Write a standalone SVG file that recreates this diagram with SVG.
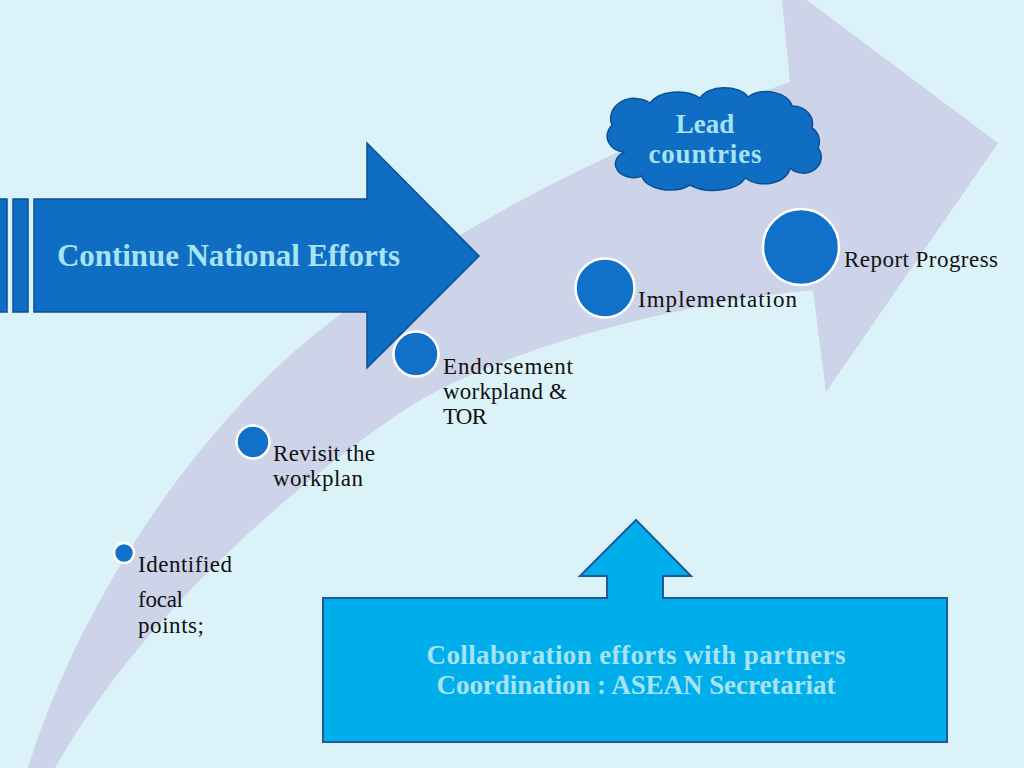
<svg xmlns="http://www.w3.org/2000/svg" width="1024" height="768" viewBox="0 0 1024 768">
  <style>
    .blue { fill: #0f6dc4; stroke: #0b4f94; stroke-width: 1.5; }
    .dot { fill: #1170c8; stroke: #ffffff; stroke-width: 2.5; }
    .lbl { font-family: "Liberation Serif", "Times New Roman", serif; font-size: 23px; fill: #111111; }
    .hdr { font-family: "Liberation Serif", "Times New Roman", serif; font-weight: bold; fill: #a6e3f5; }
  </style>
  <rect x="0" y="0" width="1024" height="768" fill="#dbf3f8"/>

  <g id="curved-arrow">
    <path d="M 28,768 C 80,600 200,420 333,320 C 450,232 600,150 790,82 L 780,-20 L 998,143 L 826,392 L 813,290 C 700,300 500,345 400,413 C 320,467 150,600 55,768 Z" fill="#cdd3e8"/>
  </g>

  <g id="national-efforts">
    <rect class="blue" x="-4" y="199" width="11" height="113"/>
    <rect class="blue" x="13" y="199" width="15" height="113"/>
    <path class="blue" d="M 34,199 L 367,199 L 367,143 L 479,256 L 367,368 L 367,312 L 34,312 Z"/>
    <text class="hdr" x="57" y="266" font-size="31" textLength="343">Continue National Efforts</text>
  </g>

  <g id="lead-countries">
    <path class="blue" d="M 625,152 A 18,16 0 0 1 612,125 A 24,20 0 0 1 650,103 A 30,18 0 0 1 700,98 A 26,16 0 0 1 748,97 A 26,18 0 0 1 792,106 A 20,18 0 0 1 812,128 A 16,16 0 0 1 818,148 A 18,16 0 0 1 790,168 A 26,18 0 0 1 745,178 A 32,16 0 0 1 690,185 A 28,16 0 0 1 642,176 A 16,12 0 0 1 625,152 Z"/>
    <text class="hdr" x="705" y="133" font-size="27" text-anchor="middle">Lead</text>
    <text class="hdr" x="705" y="163" font-size="27" text-anchor="middle" textLength="113">countries</text>
  </g>

  <g id="step-identified">
    <circle class="dot" cx="124" cy="553" r="10"/>
    <text class="lbl" x="138" y="572" textLength="94">Identified</text>
    <text class="lbl" x="138" y="607" textLength="45">focal</text>
    <text class="lbl" x="138" y="633" textLength="66">points;</text>
  </g>

  <g id="step-revisit">
    <circle class="dot" cx="253" cy="442" r="16.5"/>
    <text class="lbl" x="273" y="461" textLength="102">Revisit the</text>
    <text class="lbl" x="273" y="486" textLength="90">workplan</text>
  </g>

  <g id="step-endorsement">
    <circle class="dot" cx="416" cy="354" r="22.5"/>
    <text class="lbl" x="443" y="374" textLength="130">Endorsement</text>
    <text class="lbl" x="443" y="399" textLength="124">workpland &amp;</text>
    <text class="lbl" x="443" y="424" textLength="44">TOR</text>
  </g>

  <g id="step-implementation">
    <circle class="dot" cx="605" cy="288" r="29.5"/>
    <text class="lbl" x="638" y="307" textLength="159">Implementation</text>
  </g>

  <g id="step-report">
    <circle class="dot" cx="801" cy="247" r="38"/>
    <text class="lbl" x="844" y="267" textLength="154">Report Progress</text>
  </g>

  <g id="collaboration">
    <path d="M 323,598 L 607,598 L 607,576 L 580,576 L 636,520 L 691,576 L 663,576 L 663,598 L 947,598 L 947,742 L 323,742 Z" fill="#00aeeb" stroke="#1d5a98" stroke-width="2"/>
    <text class="hdr" x="636" y="664" font-size="27" text-anchor="middle" textLength="419">Collaboration efforts with partners</text>
    <text class="hdr" x="636" y="694" font-size="27" text-anchor="middle" textLength="399">Coordination : ASEAN Secretariat</text>
  </g>

  <g id="connectors"></g>
</svg>
